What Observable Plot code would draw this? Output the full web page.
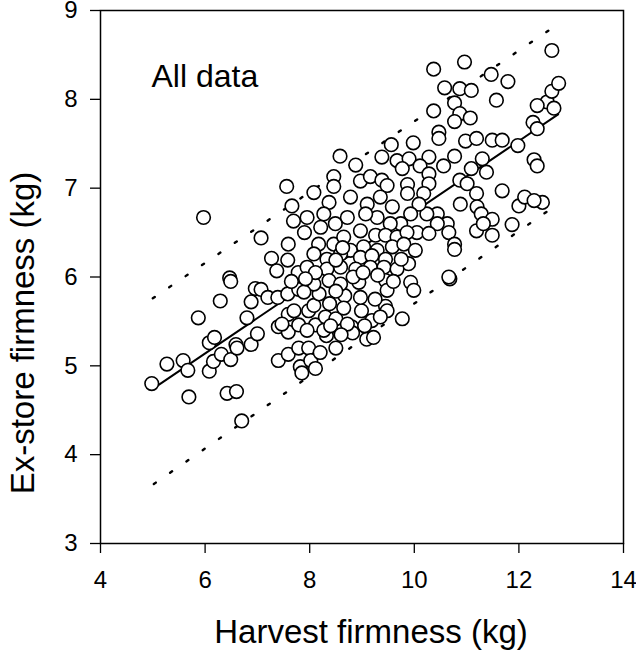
<!DOCTYPE html>
<html><head><meta charset="utf-8">
<script src="https://cdn.jsdelivr.net/npm/d3@7"></script>
<script src="https://cdn.jsdelivr.net/npm/@observablehq/plot@0.6"></script>
<style>body{margin:0;background:#fff;}</style>
</head><body><div id="chart"></div>
<script>
// Harvest firmness (kg) and ex-store firmness (kg)
const harvest = [
4.98,5.27,5.58,5.67,5.69,5.97,5.87,6.08,6.18,6.08,6.16,6.31,6.29,6.47,6.49,6.42,6.60,6.49,6.59,6.61,
6.70,6.80,6.88,7.00,6.88,6.96,7.07,7.07,7.20,7.27,7.37,7.39,7.40,7.40,7.56,7.58,7.58,7.59,7.59,7.59,
7.59,7.66,7.69,7.78,7.79,7.79,7.79,7.47,
7.82,7.85,7.98,7.98,8.02,8.11,8.11,8.30,8.32,8.50,8.50,8.80,8.82,8.99,9.09,9.19,9.22,9.45,9.48,9.77,
8.08,8.27,8.40,8.72,8.18,8.67,8.97,
12.45,12.54,12.63,12.63,12.67,12.76,
10.37,10.96,11.47,11.79,10.58,10.87,11.09,11.57,12.35,10.37,10.77,10.87,11.07,10.77,12.27,10.47,10.47,10.98,11.19,9.98,
9.56,11.49,11.68,11.98,12.35,12.29,8.58,9.38,8.88,9.67,9.90,10.28,10.11,9.77,10.77,10.56,8.46,8.46,8.97,9.16,
9.38,9.48,9.87,9.87,10.28,10.28,10.87,11.09,11.30,11.38,11.01,11.19,11.68,10.88,11.20,11.28,11.49,11.19,11.49,11.32,
12.00,12.11,12.29,11.87,10.44,10.63,10.66,10.77,10.77,10.68,10.18,10.24,10.44,10.09,9.93,10.05,10.28,9.74,9.58,9.54,
9.29,9.35,9.10,9.07,8.78,8.72,8.97,9.26,9.45,9.67,9.86,8.37,8.27,8.49,8.21,8.08,7.90,7.95,8.17,8.46,
8.65,8.78,9.03,9.29,9.58,9.80,10.02,8.08,8.33,8.59,8.97,9.19,9.45,9.89,7.95,8.33,8.59,8.88,9.16,9.42,
9.67,8.08,8.37,8.59,8.94,9.45,9.48,9.93,9.99,10.66,7.89,12.35,
8.50,8.83,9.02,9.30,8.11,7.92,8.63,8.50,9.25,9.05,8.65,8.38,9.35,9.60,9.75,7.65,7.95,8.20,8.60,7.70
];
const exStore = [
4.80,5.02,5.06,4.95,4.65,6.67,5.54,5.26,5.32,4.94,5.05,5.13,5.73,5.99,5.95,4.69,4.71,5.07,5.24,5.20,
4.38,5.54,5.24,5.36,5.72,5.87,6.44,5.86,5.77,6.21,6.07,5.77,5.44,5.06,7.02,6.19,5.81,6.37,5.58,5.38,
5.13,6.80,6.63,6.05,5.86,5.46,5.20,5.47,
4.99,4.92,5.62,5.20,5.06,5.46,4.97,5.55,5.34,5.53,5.20,5.44,5.37,5.62,5.30,5.51,5.32,5.67,5.62,5.53,
5.68,5.40,5.45,5.47,5.81,5.79,5.77,
6.84,7.97,8.55,8.09,7.90,8.18,
8.34,8.42,8.28,8.20,8.13,8.12,8.10,7.99,7.93,7.87,7.96,7.84,7.79,7.75,7.74,7.63,7.56,7.53,7.56,7.51,
7.49,7.54,7.54,7.48,7.67,7.32,7.36,7.35,7.26,7.31,7.33,7.35,7.25,7.22,7.36,7.25,7.13,7.02,7.08,7.13,
7.09,7.03,7.04,6.94,7.16,7.05,7.09,7.22,7.33,7.18,7.05,6.94,6.97,6.82,6.79,6.71,6.65,6.52,6.47,6.60,
6.80,6.90,6.86,6.59,6.71,6.60,6.50,6.37,6.31,5.98,6.94,6.71,6.60,6.82,6.71,6.50,6.49,6.60,6.79,6.60,
6.67,6.90,6.82,6.71,6.90,6.67,6.52,6.47,6.47,6.45,6.50,6.84,6.71,6.60,6.56,6.95,6.50,6.67,6.37,6.37,
6.45,6.30,6.34,6.30,6.34,6.37,6.30,6.26,6.20,6.26,6.22,6.24,6.20,6.15,6.11,6.09,6.11,6.09,6.11,6.11,
6.09,5.92,5.96,5.92,5.94,5.96,5.85,5.94,5.85,6.00,5.83,7.25,
5.84,6.00,6.05,6.02,6.05,5.98,6.33,6.19,5.75,5.45,5.65,5.70,5.55,5.95,6.20,5.95,5.40,5.15,5.35,5.62
];
// Fitted line and prediction limits (end points)
const fitX = [5.0, 12.75];
const fitY = [4.74, 7.83];
const upperX = [5.0, 12.63];
const upperY = [5.76, 8.80];
const lowerX = [5.02, 12.62];
const lowerY = [3.67, 6.77];
const xTicks = [4, 6, 8, 10, 12, 14];
const yTicks = [3, 4, 5, 6, 7, 8, 9];
const panelLabel = "All data";
const xTitle = "Harvest firmness (kg)";
const yTitle = "Ex-store firmness (kg)";

const points = harvest.map((h, i) => ({h, e: exStore[i]}));
const fit = fitX.map((x, i) => ({x, y: fitY[i]}));
const upper = upperX.map((x, i) => ({x, y: upperY[i]}));
const lower = lowerX.map((x, i) => ({x, y: lowerY[i]}));

const chart = Plot.plot({
  width: 636,
  height: 653,
  marginLeft: 100,
  marginRight: 13,
  marginTop: 10,
  marginBottom: 110,
  style: {fontFamily: "'Liberation Sans', Arial, sans-serif", fontSize: "24px", background: "#fff", color: "#000", overflow: "visible"},
  x: {domain: [4, 14]},
  y: {domain: [3, 9]},
  marks: [
    Plot.axisX({ticks: xTicks, tickSize: 10, tickPadding: 17, label: null, tickFormat: d => d, strokeWidth: 1.3}),
    Plot.axisY({ticks: yTicks, tickSize: 10, tickPadding: 13, label: null, tickFormat: d => d, strokeWidth: 1.3}),
    Plot.frame({stroke: "#000", strokeWidth: 1.5}),
    Plot.line(upper, {x: "x", y: "y", stroke: "#000", strokeWidth: 2.4, strokeDasharray: "2.4 17.4"}),
    Plot.line(lower, {x: "x", y: "y", stroke: "#000", strokeWidth: 2.4, strokeDasharray: "2.4 17.4"}),
    Plot.line(fit, {x: "x", y: "y", stroke: "#000", strokeWidth: 2}),
    Plot.dot(points, {x: "h", y: "e", r: 6.8, fill: "#fff", stroke: "#000", strokeWidth: 1.6}),
    Plot.text([panelLabel], {frameAnchor: "top-left", dx: 51, dy: 54, textAnchor: "start", fontSize: 32, fill: "#000"}),
    Plot.text([xTitle], {frameAnchor: "bottom", dx: 9, dy: 99, textAnchor: "middle", fontSize: 33, fill: "#000"}),
    Plot.text([yTitle], {frameAnchor: "left", dx: -77, dy: 56, textAnchor: "middle", rotate: -90, fontSize: 33, fill: "#000"})
  ]
});
document.getElementById("chart").appendChild(chart);
</script>
</body></html>
